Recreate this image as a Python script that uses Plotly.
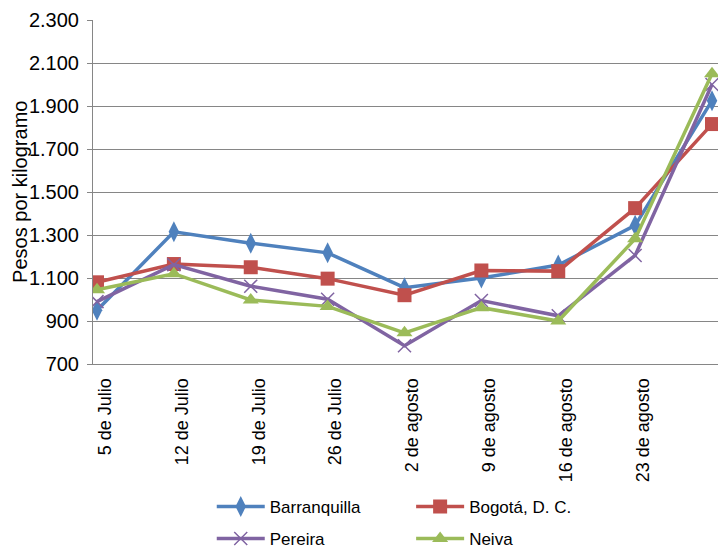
import plotly.graph_objects as go

# Data
week_labels = ["5 de Julio", "12 de Julio", "19 de Julio", "26 de Julio",
               "2 de agosto", "9 de agosto", "16 de agosto", "23 de agosto", ""]
barranquilla = [950, 1315, 1262, 1217, 1055, 1100, 1160, 1345, 1925]
bogota = [1080, 1165, 1150, 1097, 1020, 1135, 1132, 1425, 1816]
pereira = [990, 1162, 1062, 1001, 785, 995, 924, 1205, 2000]
neiva = [1045, 1120, 998, 968, 845, 962, 900, 1282, 2050]

y_ticks = [700, 900, 1100, 1300, 1500, 1700, 1900, 2100, 2300]

x_pos = list(range(len(week_labels)))
FONT = "Liberation Sans, Arial, sans-serif"

series = [
    ("Barranquilla", barranquilla, "#4F81BD", "diamond-tall", 15, "legend"),
    ("Bogotá, D. C.", bogota, "#C0504D", "square", 14, "legend2"),
    ("Pereira", pereira, "#8064A2", "x-thin", 13, "legend"),
    ("Neiva", neiva, "#9BBB59", "triangle-up", 14, "legend2"),
]

fig = go.Figure()
for i, (name, vals, color, sym, size, leg) in enumerate(series):
    marker = dict(symbol=sym, size=size, color=color)
    if sym == "x-thin":
        marker["line"] = dict(color=color, width=1.5)
    else:
        marker["line"] = dict(width=0)
    fig.add_trace(go.Scatter(
        x=x_pos, y=vals, name=name, mode="lines+markers",
        line=dict(color=color, width=3.5),
        marker=marker,
        legend=leg, legendgroup=name,
    ))

axis_gray = "#868686"

fig.update_layout(
    width=721, height=548,
    margin=dict(l=93, r=3, t=20, b=184, autoexpand=False),
    paper_bgcolor="white", plot_bgcolor="white",
    separators=",.",
    font=dict(family=FONT, color="black"),
    showlegend=True,
    xaxis=dict(
        range=[-0.052, 8.078], automargin=False,
        tickmode="array", tickvals=x_pos[:8], ticktext=week_labels[:8],
        tickangle=-90, tickfont=dict(size=18, family=FONT),
        ticklabelshift=8, ticklabelstandoff=6,
        showgrid=False, zeroline=False,
        showline=True, linecolor=axis_gray, linewidth=1,
        ticks="",
    ),
    yaxis=dict(
        range=[700, 2300], tickvals=y_ticks, tickformat=",d", automargin=False,
        tickfont=dict(size=20, family=FONT),
        showgrid=True, gridcolor=axis_gray, gridwidth=1,
        zeroline=False,
        showline=True, linecolor=axis_gray, linewidth=1,
        ticks="outside", ticklen=5, tickcolor=axis_gray,
        ticklabelstandoff=4,
    ),
    legend=dict(
        x=0.19, y=-0.363, xanchor="left", yanchor="top",
        orientation="v", font=dict(size=17, family=FONT),
        tracegroupgap=7, bgcolor="rgba(0,0,0,0)", itemwidth=48,
    ),
    legend2=dict(
        x=0.509, y=-0.363, xanchor="left", yanchor="top",
        orientation="v", font=dict(size=17, family=FONT),
        tracegroupgap=7, bgcolor="rgba(0,0,0,0)", itemwidth=48,
    ),
    annotations=[dict(
        text="Pesos por kilogramo", textangle=-90,
        xref="paper", yref="paper", x=-0.117, y=0.5,
        xanchor="center", yanchor="middle", showarrow=False,
        font=dict(size=20, family=FONT, color="black"),
    )],
)

fig.write_html(
    "out.html",
    config={"displayModeBar": False},
    post_script="document.body.style.margin='0';document.body.style.overflow='hidden';",
)
